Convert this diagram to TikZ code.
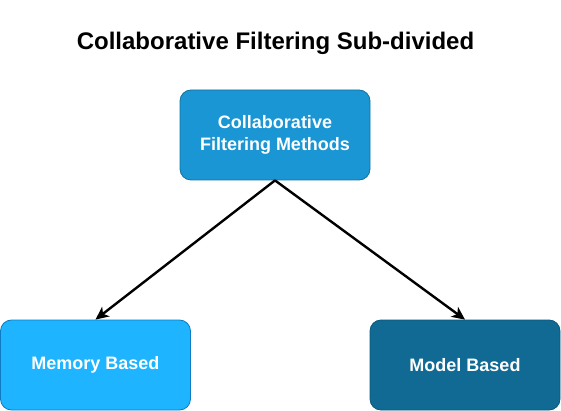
\documentclass[tikz,border=0pt]{standalone}
\usepackage{fontspec}
\setmainfont{Liberation Sans}
\usetikzlibrary{arrows.meta}

\definecolor{topfill}{HTML}{1A96D4}
\definecolor{topline}{HTML}{10739E}
\definecolor{memfill}{HTML}{1EB4FF}
\definecolor{memline}{HTML}{0E7CC0}
\definecolor{modfill}{HTML}{116A94}
\definecolor{modline}{HTML}{0B587D}

\tikzset{
  methodbox/.style={draw, line width=0.8pt, rounded corners=11pt, minimum width=190pt,
    minimum height=90pt, inner sep=0pt, align=center, text=white,
    font=\fontsize{18}{22}\selectfont\bfseries},
}

\begin{document}
\begin{tikzpicture}[x=1pt, y=-1pt]
  \useasboundingbox (0, 0) rectangle (561, 411);

  \node[font=\fontsize{24}{28}\selectfont\bfseries] (title) at (275.5, 43) {Collaborative Filtering Sub-divided};

  \node[methodbox, fill=topfill, draw=topline] (cf) at (275, 135) {Collaborative\\Filtering Methods};
  \node[methodbox, fill=memfill, draw=memline] (memory) at (95.5, 365) {Memory Based};
  \node[methodbox, fill=modfill, draw=modline] (model) at (465, 365) {Model Based};

  \foreach \target in {memory, model} {
    \draw[-{Stealth[length=13pt, width=12pt, inset=3.5pt]}, line width=2.4pt] (cf.south) -- (\target.north);
  }
\end{tikzpicture}
\end{document}
